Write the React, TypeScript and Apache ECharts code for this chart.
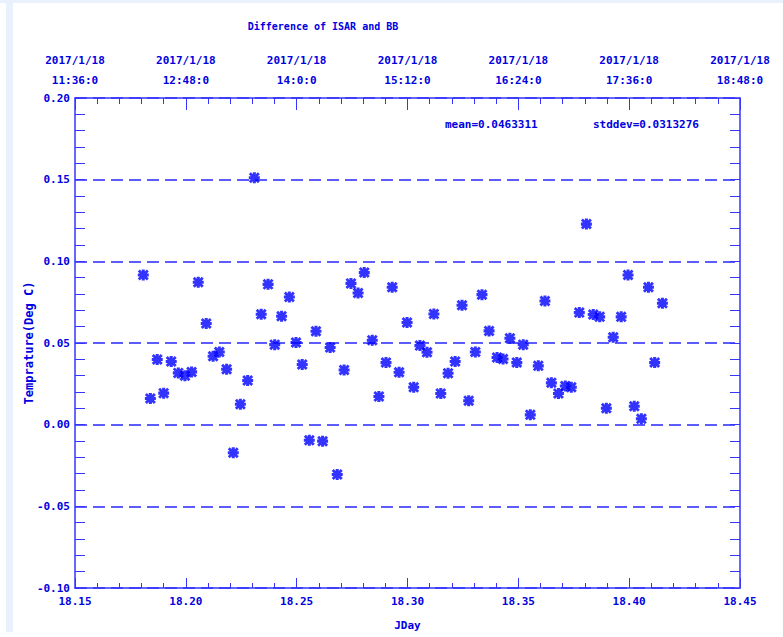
import React, { useEffect, useRef } from "react";
import * as echarts from "echarts";

const jday: number[] = [
  18.1808, 18.184, 18.1871, 18.19, 18.1934, 18.1966, 18.1996, 18.2026, 18.2056, 18.2092,
  18.2123, 18.2151, 18.2184, 18.2214, 18.2246, 18.2279, 18.2309, 18.234, 18.2371, 18.2401,
  18.2432, 18.2467, 18.2497, 18.2525, 18.2557, 18.2587, 18.2617, 18.2651, 18.2683, 18.2714,
  18.2745, 18.2777, 18.2805, 18.2841, 18.2871, 18.2903, 18.2931, 18.2962, 18.2998, 18.3028,
  18.3056, 18.3088, 18.3119, 18.315, 18.3183, 18.3215, 18.3246, 18.3276, 18.3306, 18.3336,
  18.3368, 18.3404, 18.3431, 18.3462, 18.3493, 18.3522, 18.3554, 18.359, 18.362, 18.3649,
  18.3681, 18.3712, 18.3739, 18.3775, 18.3807, 18.3838, 18.3867, 18.3897, 18.3928, 18.3964,
  18.3995, 18.4023, 18.4055, 18.4087, 18.4115, 18.415,
];

const diff: number[] = [
  0.0916, 0.016, 0.0399, 0.0193, 0.0387, 0.0317, 0.0299, 0.0323, 0.0872, 0.0619,
  0.0419, 0.0445, 0.0339, -0.0172, 0.0125, 0.027, 0.1512, 0.0676, 0.0859, 0.049,
  0.0664, 0.0782, 0.0503, 0.0368, -0.0095, 0.0572, -0.0101, 0.0472, -0.0305, 0.0335,
  0.0865, 0.0806, 0.0931, 0.0517, 0.0172, 0.038, 0.0841, 0.0321, 0.0625, 0.0229,
  0.0484, 0.0443, 0.0678, 0.0191, 0.0315, 0.0387, 0.0731, 0.0146, 0.0445, 0.0796,
  0.0574, 0.0411, 0.0402, 0.0529, 0.038, 0.049, 0.006, 0.036, 0.0757, 0.0256,
  0.0191, 0.0237, 0.0229, 0.0686, 0.1228, 0.0674, 0.066, 0.0101, 0.0535, 0.066,
  0.0916, 0.0113, 0.0036, 0.0841, 0.038, 0.0743,
];

const topDates: string[] = [
  "2017/1/18", "2017/1/18", "2017/1/18", "2017/1/18", "2017/1/18", "2017/1/18", "2017/1/18",
];
const topTimes: string[] = [
  "11:36:0", "12:48:0", "14:0:0", "15:12:0", "16:24:0", "17:36:0", "18:48:0",
];

const titleText = "Difference of ISAR and BB";
const meanText = "mean=0.0463311";
const stdText = "stddev=0.0313276";

const X_MIN = 18.15;
const X_MAX = 18.45;
const X_INT = 0.05;

const FONT = "'DejaVu Sans Mono', monospace";
const TEXT_COLOR = "#0000e0";
const AXIS_COLOR = "#3535ff";

const STAR =
  "path://M0 3.6 L10 3.6 L10 6.4 L0 6.4 Z M3.6 0 L6.4 0 L6.4 10 L3.6 10 Z M1.8 0 L10 8.2 L8.2 10 L0 1.8 Z M8.2 0 L10 1.8 L1.8 10 L0 8.2 Z";

export default function App() {
  const ref = useRef<HTMLDivElement>(null);

  useEffect(() => {
    if (!ref.current) return;
    const chart = echarts.init(ref.current, undefined, { renderer: "svg" });
    const points = jday.map((x, i) => [x, diff[i]]);

    const axisLine = { show: true, onZero: false, lineStyle: { color: AXIS_COLOR, width: 1.5 } };
    const labelStyle = { color: TEXT_COLOR, fontFamily: FONT, fontSize: 11, fontWeight: "bold" as const };

    chart.setOption({
      animation: false,
      backgroundColor: "#ffffff",
      title: {
        text: titleText,
        left: 318,
        top: 16,
        textAlign: "center",
        textStyle: { color: TEXT_COLOR, fontFamily: FONT, fontSize: 10, fontWeight: "bold" },
      },
      grid: { left: 75, right: 43, top: 98, bottom: 49, outerBoundsMode: "none", containLabel: false },
      xAxis: [
        {
          type: "value",
          position: "bottom",
          min: X_MIN,
          max: X_MAX,
          interval: X_INT,
          name: "JDay",
          nameLocation: "middle",
          nameGap: 32,
          nameMoveOverlap: false,
          nameTextStyle: labelStyle,
          axisLine,
          axisTick: { show: true, inside: true, length: 10, lineStyle: { color: AXIS_COLOR } },
          minorTick: { show: true, splitNumber: 5, length: 5, lineStyle: { color: AXIS_COLOR } },
          axisLabel: { ...labelStyle, margin: 8, formatter: (v: number) => v.toFixed(2) },
          splitLine: { show: false },
        },
        {
          type: "value",
          position: "top",
          min: X_MIN,
          max: X_MAX,
          interval: X_INT,
          axisLine,
          axisTick: { show: true, inside: true, length: 12, lineStyle: { color: AXIS_COLOR } },
          minorTick: { show: true, splitNumber: 5, length: 6, lineStyle: { color: AXIS_COLOR } },
          axisLabel: {
            ...labelStyle,
            margin: 8,
            lineHeight: 20,
            formatter: (v: number) => {
              const i = Math.round((v - X_MIN) / X_INT);
              return (topDates[i] ?? "") + "\n" + (topTimes[i] ?? "");
            },
          },
          splitLine: { show: false },
        },
      ],
      yAxis: [
        {
          type: "value",
          position: "left",
          min: -0.1,
          max: 0.2,
          interval: 0.05,
          name: "Temprature(Deg C)",
          nameLocation: "middle",
          nameGap: 40,
          nameMoveOverlap: false,
          nameTextStyle: { ...labelStyle, fontSize: 12 },
          axisLine,
          axisTick: { show: true, inside: true, length: 10, lineStyle: { color: AXIS_COLOR } },
          minorTick: { show: true, splitNumber: 5, length: 10, lineStyle: { color: AXIS_COLOR } },
          axisLabel: { ...labelStyle, margin: 5, formatter: (v: number) => v.toFixed(2) },
          splitLine: {
            show: true,
            lineStyle: { color: "#2828ff", width: 1.5, type: [12, 6], opacity: 1 },
          },
        },
        {
          type: "value",
          position: "right",
          min: -0.1,
          max: 0.2,
          interval: 0.05,
          axisLine,
          axisTick: { show: true, inside: true, length: 10, lineStyle: { color: AXIS_COLOR } },
          minorTick: { show: true, splitNumber: 5, length: 10, lineStyle: { color: AXIS_COLOR } },
          axisLabel: { show: false },
          splitLine: { show: false },
        },
      ],
      graphic: [
        { type: "rect", shape: { x: 0, y: 0, width: 783, height: 3 }, style: { fill: "#e9f2fc" }, silent: true },
        { type: "rect", shape: { x: 6, y: 0, width: 7, height: 632 }, style: { fill: "#e9f2fc" }, silent: true },
        {
          type: "text",
          left: 445,
          top: 119,
          style: { text: meanText, fill: TEXT_COLOR, font: `bold 11px ${FONT}` },
        },
        {
          type: "text",
          left: 593,
          top: 119,
          style: { text: stdText, fill: TEXT_COLOR, font: `bold 11px ${FONT}` },
        },
      ],
      series: [
        {
          type: "scatter",
          xAxisIndex: 0,
          yAxisIndex: 0,
          data: points,
          symbol: STAR,
          symbolSize: 11,
          itemStyle: { color: "#0000ff" },
        },
      ],
    });

    return () => chart.dispose();
  }, []);

  return (
    <div
      ref={ref}
      style={{ position: "fixed", left: 0, top: 0, width: 783, height: 637 }}
    />
  );
}
